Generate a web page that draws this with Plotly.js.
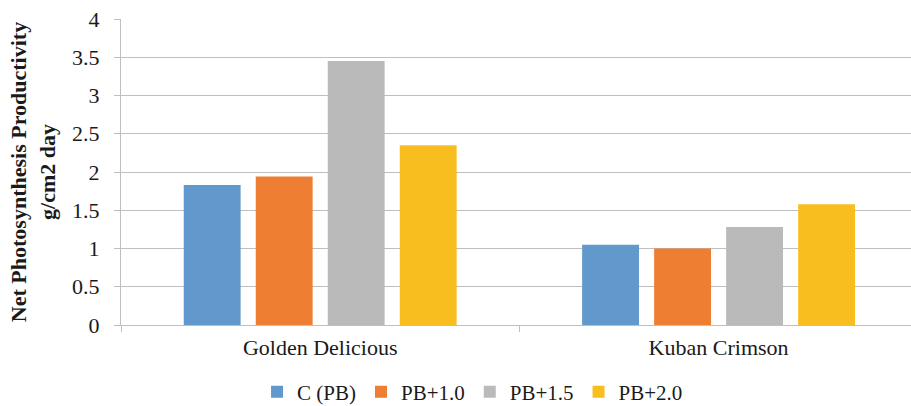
<!DOCTYPE html>
<html>
<head>
<meta charset="utf-8">
<script src="https://cdn.plot.ly/plotly-3.0.1.min.js"></script>
</head>
<body style="margin:0">
<div id="chart"></div>
<script>
// Cultivars on the category axis
const cultivars = ['Golden Delicious', 'Kuban Crimson'];

// Treatments (one bar series each)
const treatments = ['C (PB)', 'PB+1.0', 'PB+1.5', 'PB+2.0'];

// Net photosynthesis productivity, g/cm2 day, per cultivar
const valuesC    = [1.83, 1.05];
const values10   = [1.94, 1.00];
const values15   = [3.45, 1.28];
const values20   = [2.35, 1.58];

const seriesValues = [valuesC, values10, values15, values20];
const barColors = ['#6199CC', '#ED7E32', '#BABABA', '#F8BE1F'];
const lineGrey = '#BFBFBF';
const ink = '#1a1a1a';

const traces = treatments.map((name, i) => ({
  type: 'bar',
  name: name,
  x: cultivars,
  y: seriesValues[i],
  marker: { color: barColors[i] }
}));

Plotly.newPlot('chart', traces, {
  width: 911,
  height: 406,
  margin: { l: 121, r: 0, t: 19, b: 81, autoexpand: false },
  barmode: 'group',
  bargap: 0.277,
  bargroupgap: 0.21,
  font: { family: 'Liberation Serif', size: 22, color: ink },
  xaxis: {
    type: 'category',
    range: [-0.5, 1.483],
    showline: true,
    linecolor: lineGrey,
    ticks: 'outside',
    tickson: 'boundaries',
    ticklen: 6,
    tickcolor: lineGrey,
    showgrid: false,
    zeroline: false,
    automargin: false,
    ticklabelstandoff: 3,
    tickfont: { family: 'Liberation Serif', size: 22, color: ink }
  },
  yaxis: {
    range: [0, 4],
    dtick: 0.5,
    tick0: 0,
    showline: true,
    linecolor: lineGrey,
    ticks: 'outside',
    ticklen: 6,
    tickcolor: lineGrey,
    gridcolor: lineGrey,
    zeroline: false,
    automargin: false,
    ticklabelstandoff: 10,
    tickfont: { family: 'Liberation Serif', size: 22, color: ink },
    title: {
      text: '<b>Net Photosynthesis Productivity<br>g/cm2 day</b>',
      font: { family: 'Liberation Serif', size: 22, color: ink },
      standoff: 10
    }
  },
  showlegend: true,
  legend: {
    orientation: 'h',
    x: 0.445,
    xanchor: 'center',
    yref: 'container',
    y: 0.034,
    yanchor: 'middle',
    font: { family: 'Liberation Serif', size: 21, color: ink },
    traceorder: 'normal'
  }
}, { staticPlot: true });
</script>
</body>
</html>
